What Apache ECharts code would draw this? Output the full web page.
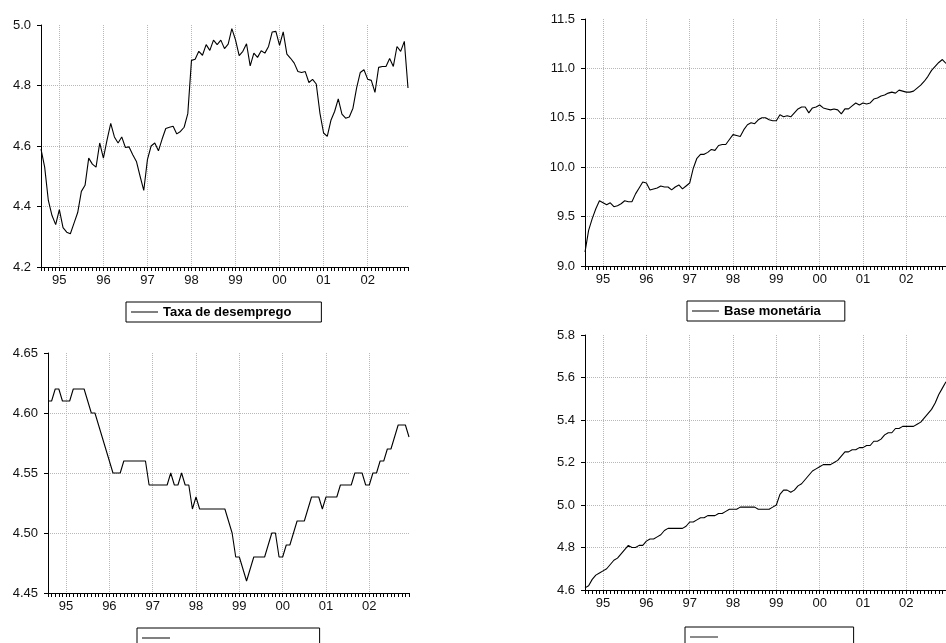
<!DOCTYPE html>
<html>
<head>
<meta charset="utf-8">
<script src="https://cdn.jsdelivr.net/npm/echarts@6/dist/echarts.min.js"></script>
<style>
html,body{margin:0;padding:0;background:#fff;}
#chart{width:946px;height:643px;}
</style>
</head>
<body>
<div id="chart"></div>
<script>
// Monthly observations 1994M08 .. 2002M12
var months = [];
(function(){
  var y = 1994, m = 8;
  while (y < 2002 || (y === 2002 && m <= 12)) {
    months.push(y + '-' + (m < 10 ? '0' + m : '' + m));
    m++; if (m > 12) { m = 1; y++; }
  }
})();

var seriesNames = ['Taxa de desemprego', 'Base monetária', ' ', '\u00a0'];

var desemprego = [4.59,4.53,4.42,4.37,4.34,4.39,4.33,4.315,4.31,4.345,4.38,4.45,4.47,4.56,4.54,4.53,4.61,4.56,4.62,4.675,
4.63,4.61,4.63,4.595,4.597,4.571,4.549,4.50,4.453,4.555,4.60,4.61,4.584,4.623,4.658,4.662,4.665,4.64,4.648,4.662,
4.707,4.883,4.887,4.913,4.90,4.935,4.916,4.95,4.935,4.95,4.922,4.937,4.988,4.951,4.899,4.913,4.938,4.865,4.907,4.893,
4.915,4.907,4.929,4.977,4.979,4.933,4.977,4.904,4.89,4.874,4.846,4.843,4.846,4.81,4.82,4.805,4.709,4.643,4.632,4.685,
4.714,4.756,4.705,4.692,4.696,4.725,4.792,4.843,4.852,4.821,4.817,4.777,4.86,4.863,4.863,4.889,4.863,4.929,4.913,4.946,
4.792];

var baseMonetaria = [9.14,9.36,9.48,9.58,9.66,9.64,9.62,9.64,9.60,9.61,9.63,9.66,9.65,9.65,9.73,9.79,9.85,9.84,9.77,9.78,
9.79,9.81,9.80,9.80,9.77,9.80,9.82,9.78,9.81,9.84,9.99,10.09,10.13,10.13,10.15,10.18,10.17,10.22,10.23,10.23,
10.28,10.33,10.32,10.31,10.38,10.43,10.45,10.44,10.48,10.50,10.50,10.48,10.47,10.47,10.53,10.51,10.52,10.51,10.55,10.59,
10.61,10.61,10.55,10.60,10.61,10.63,10.60,10.59,10.58,10.59,10.58,10.54,10.59,10.59,10.62,10.65,10.63,10.65,10.64,10.65,
10.69,10.70,10.72,10.73,10.75,10.76,10.75,10.78,10.77,10.76,10.76,10.77,10.80,10.83,10.87,10.92,10.98,11.02,11.06,11.09,
11.05];

var serie3 = [4.61,4.61,4.62,4.62,4.61,4.61,4.61,4.62,4.62,4.62,4.62,4.61,4.60,4.60,4.59,4.58,4.57,4.56,4.55,4.55,
4.55,4.56,4.56,4.56,4.56,4.56,4.56,4.56,4.54,4.54,4.54,4.54,4.54,4.54,4.55,4.54,4.54,4.55,4.54,4.54,
4.52,4.53,4.52,4.52,4.52,4.52,4.52,4.52,4.52,4.52,4.51,4.50,4.48,4.48,4.47,4.46,4.47,4.48,4.48,4.48,
4.48,4.49,4.50,4.50,4.48,4.48,4.49,4.49,4.50,4.51,4.51,4.51,4.52,4.53,4.53,4.53,4.52,4.53,4.53,4.53,
4.53,4.54,4.54,4.54,4.54,4.55,4.55,4.55,4.54,4.54,4.55,4.55,4.56,4.56,4.57,4.57,4.58,4.59,4.59,4.59,
4.58];

var serie4 = [4.61,4.62,4.65,4.67,4.68,4.69,4.70,4.72,4.74,4.75,4.77,4.79,4.81,4.80,4.80,4.81,4.81,4.83,4.84,4.84,
4.85,4.86,4.88,4.89,4.89,4.89,4.89,4.89,4.90,4.92,4.92,4.93,4.94,4.94,4.95,4.95,4.95,4.96,4.96,4.97,
4.98,4.98,4.98,4.99,4.99,4.99,4.99,4.99,4.98,4.98,4.98,4.98,4.99,5.00,5.05,5.07,5.07,5.06,5.07,5.09,
5.10,5.12,5.14,5.16,5.17,5.18,5.19,5.19,5.19,5.20,5.21,5.23,5.25,5.25,5.26,5.26,5.27,5.27,5.28,5.28,
5.30,5.30,5.31,5.33,5.34,5.34,5.36,5.36,5.37,5.37,5.37,5.37,5.38,5.39,5.41,5.43,5.45,5.48,5.52,5.55,
5.58];

var yMin = [4.2, 9.0, 4.45, 4.6];
var yMax = [5.0, 11.5, 4.65, 5.8];
var yStep = [0.2, 0.5, 0.05, 0.2];
var yDecimals = [1, 1, 2, 1];
var allData = [desemprego, baseMonetaria, serie3, serie4];

var FONT = "'Liberation Sans', Arial, sans-serif";
var grids = [
  {left: 41, top: 25, width: 367, height: 242},
  {left: 585, top: 19, width: 362, height: 247},
  {left: 48, top: 353, width: 361, height: 240},
  {left: 585, top: 335, width: 368, height: 255}
];
var legendPos = [
  {left: 126, top: 302, padding: [3, 30, 3, 5], lineW: 27, lineH: 1, iconColor: '#000'},
  {left: 687, top: 301, padding: [3, 24, 3, 5], lineW: 27, lineH: 1, iconColor: '#000'},
  {left: 137, top: 628, padding: [3, 141, 3, 5], lineW: 28, lineH: 1, iconColor: '#000'},
  {left: 685, top: 627, padding: [3, 127, 3, 5], lineW: 28, lineH: 2, iconColor: '#8a8a8a'}
];

function isJan(idx, val) { return months[idx].slice(5) === '01'; }

var option = {
  animation: false,
  backgroundColor: '#fff',
  textStyle: {fontFamily: FONT},
  grid: grids.map(function(g){ return Object.assign({containLabel: false}, g); }),
  xAxis: grids.map(function(g, k){
    return {
      type: 'category', gridIndex: k, data: months, boundaryGap: false,
      axisLine: {show: true, lineStyle: {color: '#000', width: 1}},
      axisTick: {show: true, interval: 0, length: 4, inside: false, lineStyle: {color: '#000'}},
      axisLabel: {
        interval: isJan, margin: 7, color: '#111', fontSize: 13, fontFamily: FONT,
        formatter: function(v){ return v.slice(2, 4); }
      },
      splitLine: {show: true, interval: isJan, lineStyle: {color: '#b8b8b8', type: 'dotted', width: 1}}
    };
  }),
  yAxis: grids.map(function(g, k){
    return {
      type: 'value', gridIndex: k, min: yMin[k], max: yMax[k], interval: yStep[k],
      axisLine: {show: true, lineStyle: {color: '#000', width: 1}},
      axisTick: {show: true, length: 4, inside: false, lineStyle: {color: '#000'}},
      axisLabel: {
        margin: 10, color: '#111', fontSize: 13, fontFamily: FONT,
        formatter: (function(d){ return function(v){ return v.toFixed(d); }; })(yDecimals[k])
      },
      splitLine: {show: true, showMinLine: false, showMaxLine: false,
        lineStyle: {color: '#b8b8b8', type: 'dotted', width: 1}}
    };
  }),
  legend: legendPos.map(function(p, k){
    return {
      left: p.left, top: p.top, orient: 'horizontal',
      padding: p.padding, itemGap: 0,
      borderColor: '#000', borderWidth: 1, backgroundColor: '#fff',
      itemWidth: p.lineW, itemHeight: p.lineH,
      selectedMode: false,
      textStyle: {fontFamily: FONT, fontSize: 13, fontWeight: 'bold', color: '#000', lineHeight: 14},
      data: [{name: seriesNames[k], icon: 'rect', itemStyle: {color: p.iconColor}}]
    };
  }),
  series: allData.map(function(d, k){
    return {
      name: seriesNames[k], type: 'line', xAxisIndex: k, yAxisIndex: k,
      data: d, symbol: 'none', showSymbol: false,
      lineStyle: {color: '#000', width: 1.1}, itemStyle: {color: '#000'},
      emphasis: {disabled: true}
    };
  })
};

var chart = echarts.init(document.getElementById('chart'), null, {renderer: 'canvas'});
chart.setOption(option);
</script>
</body>
</html>
